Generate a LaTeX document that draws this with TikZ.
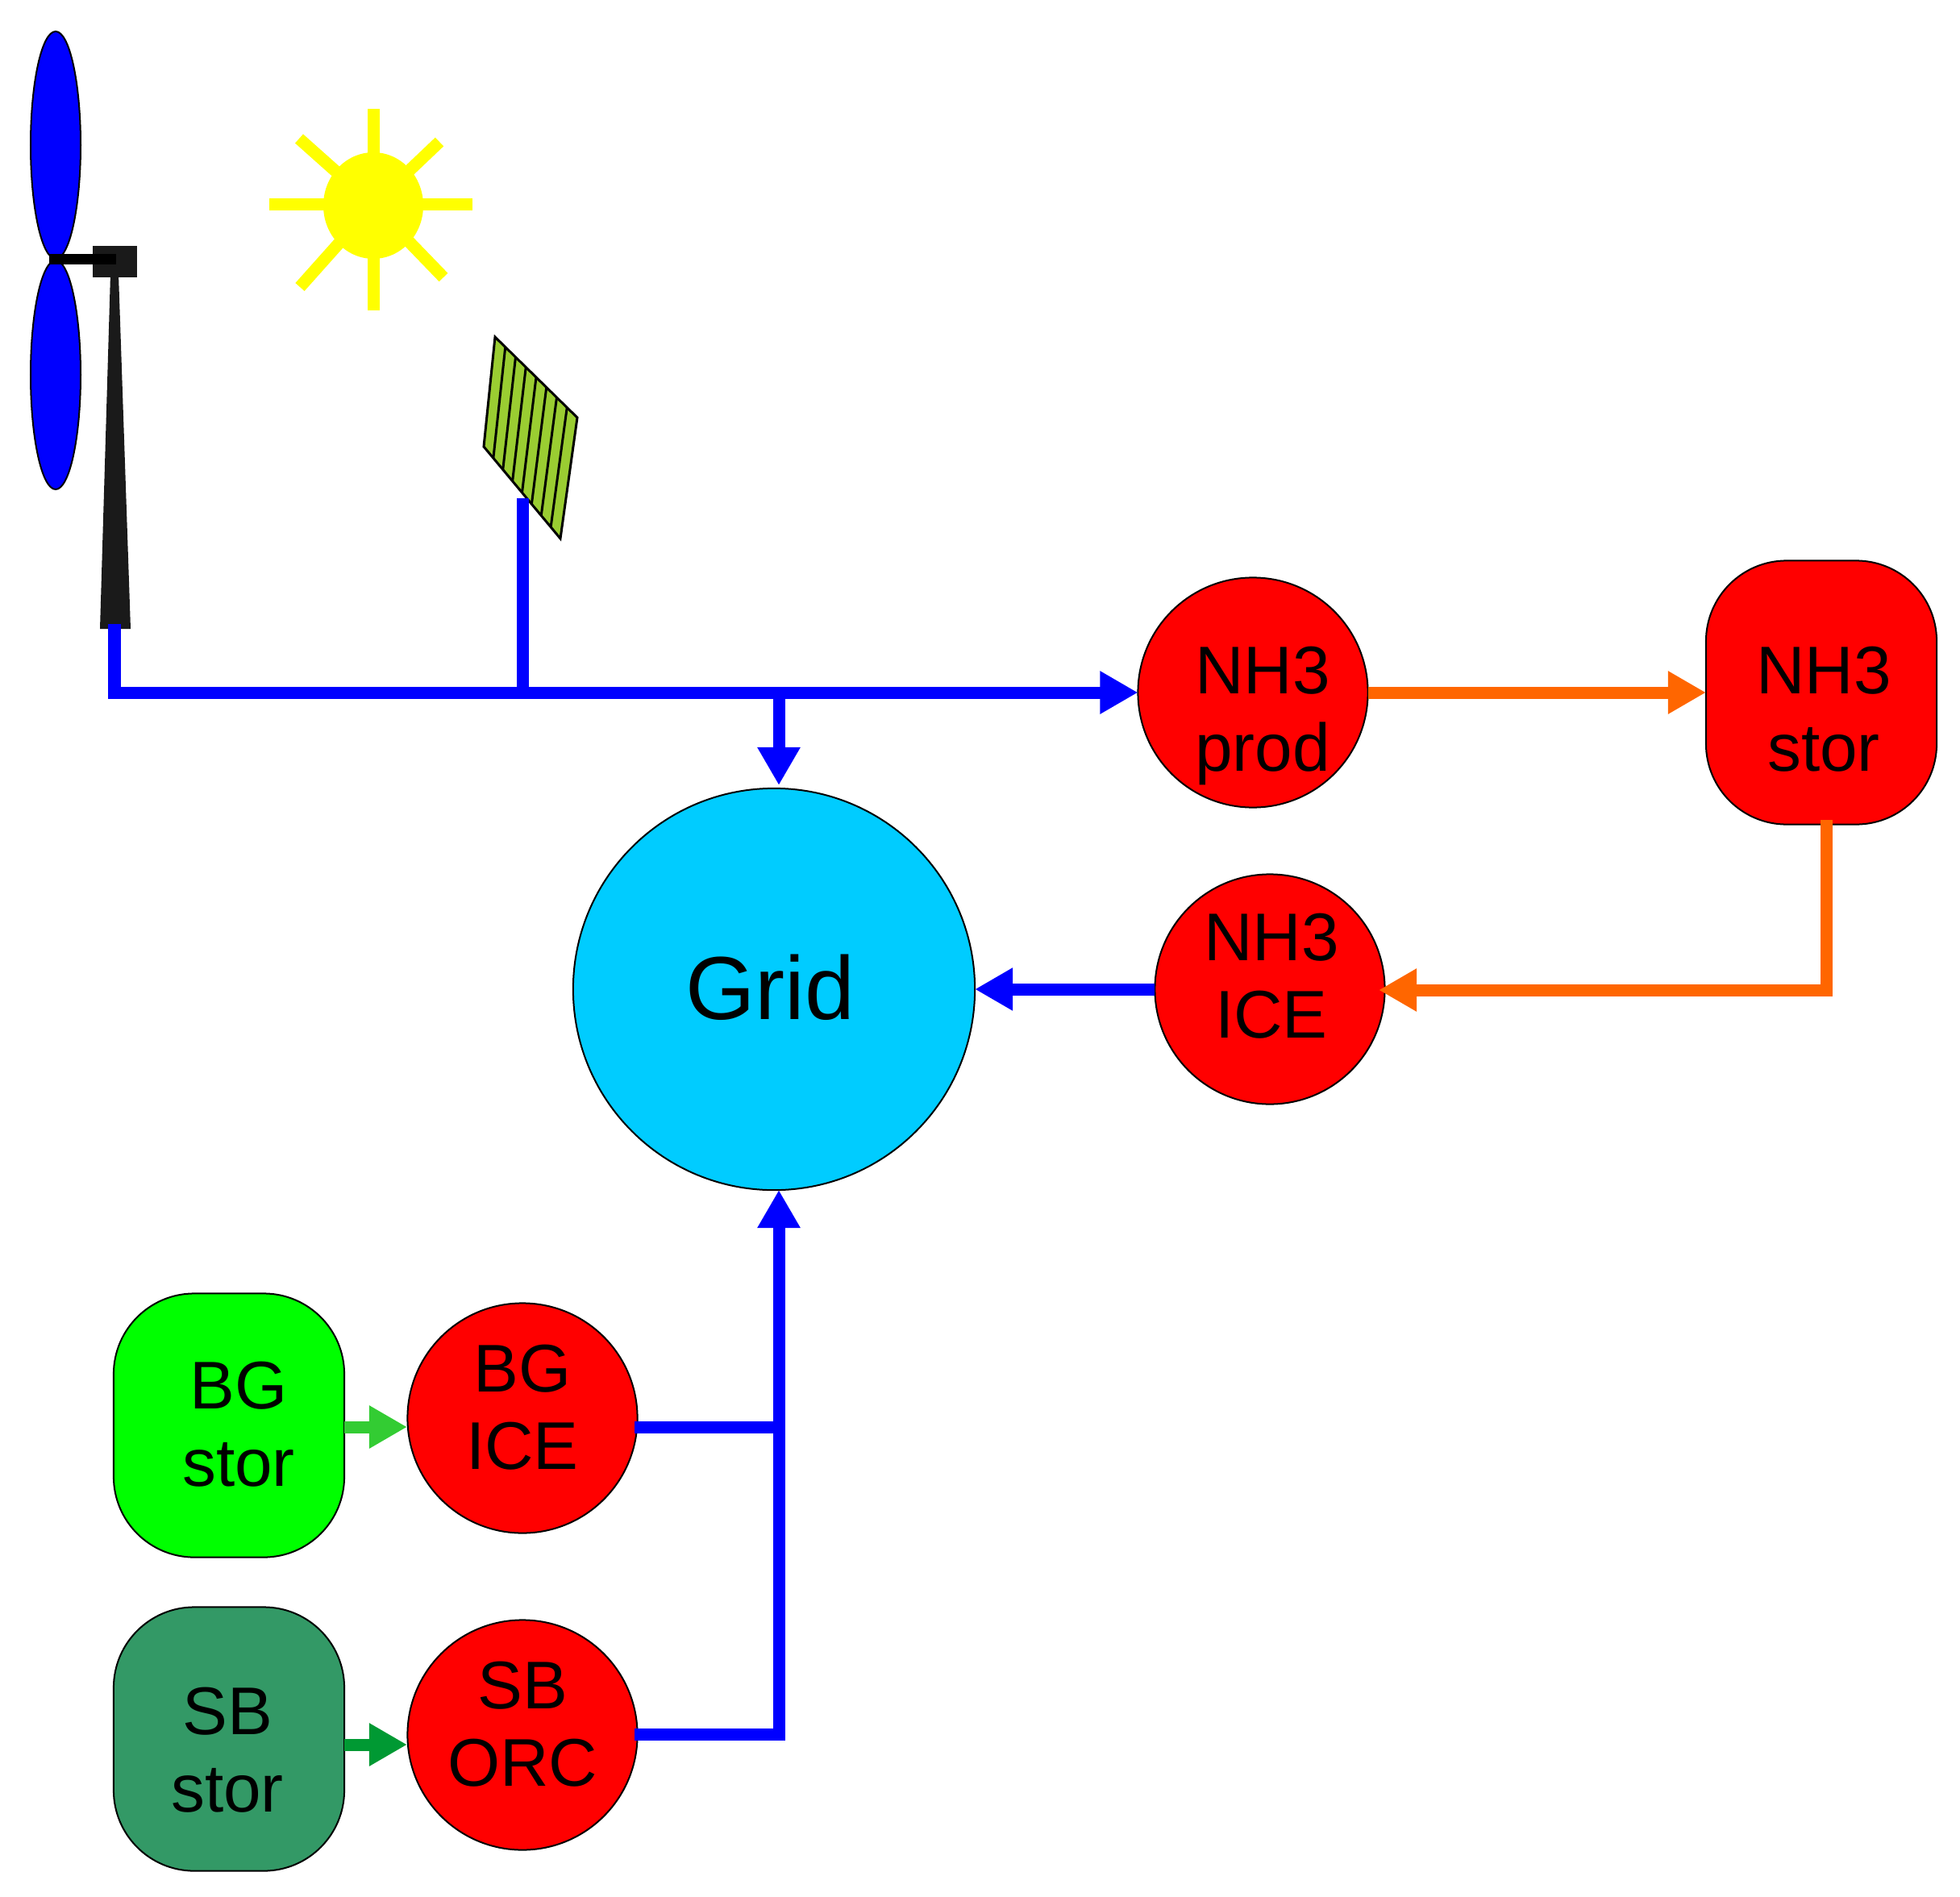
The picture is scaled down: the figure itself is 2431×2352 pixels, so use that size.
\documentclass[tikz,border=0pt]{standalone}
\usepackage{fontspec}
\setmainfont{Liberation Sans}
\usetikzlibrary{arrows.meta}
\usetikzlibrary{calc}

\definecolor{gridblue}{HTML}{00CCFF}
\definecolor{sbgreen}{HTML}{339966}
\definecolor{bgarrow}{HTML}{33CC33}
\definecolor{sbarrow}{HTML}{009933}
\definecolor{nhorange}{HTML}{FF6600}
\definecolor{panelgreen}{HTML}{9ACD32}
\definecolor{towergray}{HTML}{1A1A1A}
\definecolor{sunyellow}{RGB}{255,255,0}

\newcommand{\twolines}[2]{\strut #1\\\strut #2}

\tikzset{
    unit/.style={circle, draw=black, line width=0.02cm, fill=red, minimum size=2.85cm, inner sep=0pt, outer sep=0pt},
    storage/.style={rectangle, rounded corners=1.0cm, draw=black, line width=0.02cm, minimum width=2.86cm, minimum height=3.27cm, inner sep=0pt, outer sep=0pt},
    lab/.style={align=center, inner sep=0pt, font=\fontsize{23.8}{27.3}\selectfont},
    flow/.style={line width=0.15cm, -{Triangle[length=0.47cm, width=0.50cm]}},
    wire/.style={line width=0.15cm, line cap=rect},
    ray/.style={sunyellow, line width=0.15cm}
}

\begin{document}
\begin{tikzpicture}[x=0.01cm, y=-0.01cm]
    \useasboundingbox (0,0) rectangle (2431,2352);

    % wind turbine
    \fill[towergray] (137,340) -- (147,340) -- (162,780) -- (124,780) -- cycle;
    \fill[towergray] (115,305) rectangle (170,344);
    \draw[black, line width=0.02cm, fill=blue] (69,180) ellipse (31 and 141);
    \draw[black, line width=0.02cm, fill=blue] (69,465) ellipse (31 and 142);
    \draw[black, line width=0.13cm] (61,322) -- (144,322);

    % sun
    \foreach \ex/\ey in {463/135, 463/385, 334/254, 586/254, 371/172, 545/176, 372/356, 550/344}
        \draw[ray] (463,254) -- (\ex,\ey);
    \fill[sunyellow] (463,255) ellipse (62 and 66);

    % solar panel
    \coordinate (pa) at (614,418);
    \coordinate (pb) at (716,518);
    \coordinate (pc) at (695,668);
    \coordinate (pd) at (600,554);
    \draw[black, line width=0.03cm, fill=panelgreen] (pa) -- (pb) -- (pc) -- (pd) -- cycle;
    \foreach \t in {0.125,0.25,...,0.9}
        \draw[black, line width=0.03cm] ($(pa)!\t!(pb)$) -- ($(pd)!\t!(pc)$);

    % main nodes
    \node[circle, draw=black, line width=0.02cm, fill=gridblue, minimum size=4.98cm, inner sep=0pt, outer sep=0pt] (grid) at (960,1227) {};
    \node[unit] (prod) at (1554,859) {};
    \node[storage, fill=red] (nhstor) at (2259,859) {};
    \node[unit] (nhice) at (1575,1227) {};
    \node[storage, fill=green] (bgstor) at (284,1768) {};
    \node[unit] (bgice) at (648,1759) {};
    \node[storage, fill=sbgreen] (sbstor) at (284,2157) {};
    \node[unit] (sborc) at (648,2152) {};

    \node[anchor=base, inner sep=0pt, font=\fontsize{31.6}{36}\selectfont] (gridlab) at (955,1264) {Grid};
    \node[lab] (prodlab) at (1566,889) {\twolines{NH3}{prod}};
    \node[lab] (storlab) at (2262,889) {\twolines{NH3}{stor}};
    \node[lab] (icelab) at (1577,1220) {\twolines{NH3}{ICE}};
    \node[lab] (bgstorlab) at (296,1776) {\twolines{BG}{stor}};
    \node[lab] (bgicelab) at (648,1755) {\twolines{BG}{ICE}};
    \node[lab] (sbstorlab) at (282,2180) {\twolines{SB}{stor}};
    \node[lab] (sborclab) at (648,2148) {\twolines{SB}{ORC}};

    % free ends of the connectors
    \coordinate (towerbase) at (142,774);
    \coordinate (panelbase) at (648,626);
    \coordinate (busA) at (648,859);
    \coordinate (busB) at (966,859);
    \coordinate (gridtop) at (966,974);
    \coordinate (gridbot) at (966,1476);
    \coordinate (trunk) at (966,2151);
    \coordinate (bgjoin) at (966,1770);
    \coordinate (bgout) at (794,1770);
    \coordinate (sbout) at (794,2151);
    \coordinate (storout) at (2265,1017);
    \coordinate (icein) at (1710,1228);
    \coordinate (bgin) at (505,1770);
    \coordinate (sbin) at (505,2164);

    % connectors
    \draw[flow, blue] (towerbase) |- (prod.west);
    \draw[wire, blue] (panelbase) -- (busA);
    \draw[flow, blue] (busB) -- (gridtop);
    \draw[flow, nhorange] (prod.east) -- (nhstor.west);
    \draw[flow, nhorange] (storout) |- (icein);
    \draw[flow, blue] (nhice.west) -- (grid.east);
    \draw[flow, blue] (trunk) -- (gridbot);
    \draw[wire, blue] (bgout) -- (bgjoin);
    \draw[wire, blue] (sbout) -- (trunk);
    \draw[flow, bgarrow] (bgstor.east |- bgin) -- (bgin);
    \draw[flow, sbarrow] (sbstor.east |- sbin) -- (sbin);
\end{tikzpicture}
\end{document}
